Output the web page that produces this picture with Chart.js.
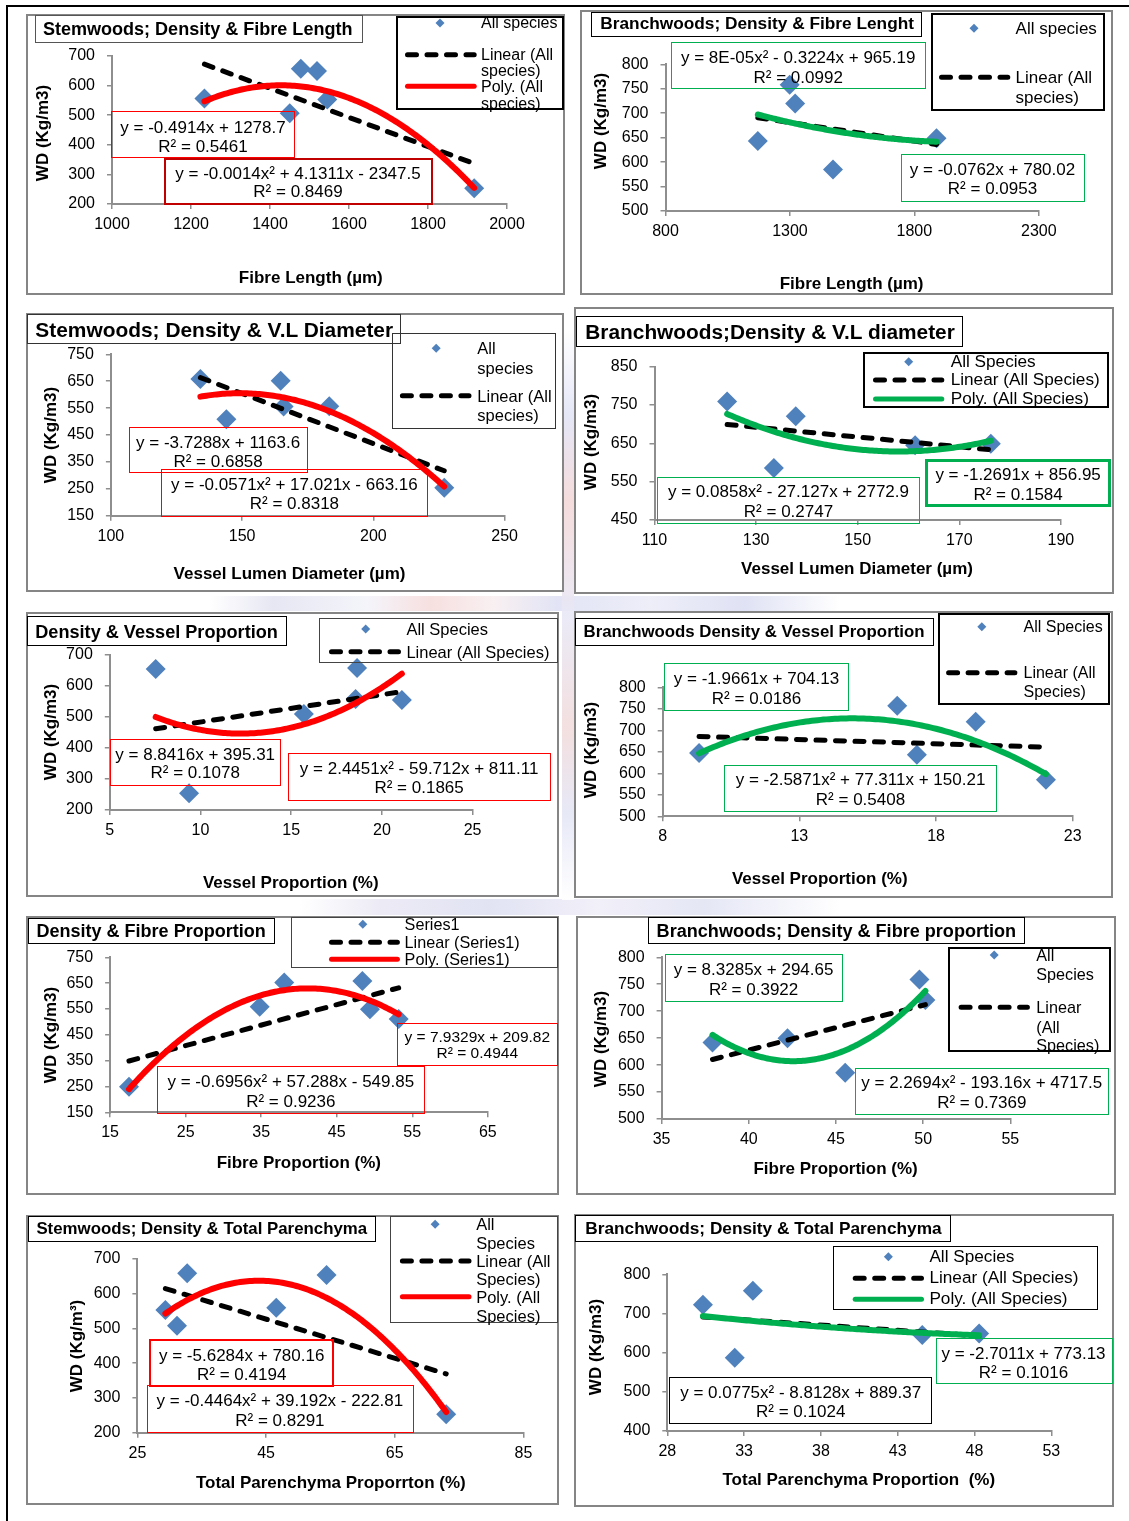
<!DOCTYPE html>
<html>
<head>
<meta charset="utf-8">
<title>Wood density and anatomical traits of stemwoods and branchwoods</title>
<script src="https://cdn.jsdelivr.net/npm/chart.js@4.4.1/dist/chart.umd.min.js"></script>
<style>
  html, body { margin:0; padding:0; background:#fff; }
  body { position:relative; width:1129px; height:1521px; overflow:hidden;
         font-family:'Liberation Sans', Arial, Helvetica, sans-serif; color:#000; }
  .abs { position:absolute; }
  .box { position:absolute; box-sizing:border-box; }
  .t { position:absolute; white-space:pre; line-height:1; }
  .c { transform:translate(-50%,-50%); }
  .l { transform:translateY(-50%); }
  .b { font-weight:bold; }
  .rot { transform:translate(-50%,-50%) rotate(-90deg); }
  canvas { position:absolute; }
  svg { position:absolute; left:0; top:0; }
  .haze { position:absolute; opacity:0.9; }
</style>
</head>
<body>
<!-- faint tinted bands between the chart rows -->
<div class="haze" style="left:210px;top:596px;width:630px;height:15px;background:linear-gradient(90deg,#fff,#e4e4f2 10%,#f3f3fa 25%,#f6dcdc 35%,#f8eef0 45%,#dfe1f4 55%,#ececf8 70%,#dcdff3 85%,#fff)"></div>
<div class="haze" style="left:300px;top:899px;width:540px;height:16px;background:linear-gradient(90deg,#fff,#eae8f4 15%,#dee0f2 35%,#f0eef8 55%,#e2e4f4 75%,#fff)"></div>
<div class="haze" style="left:562px;top:330px;width:12px;height:570px;background:linear-gradient(180deg,#fff,#e2e4f6 15%,#f4d8d8 30%,#e8e8f6 50%,#f2dcdc 70%,#e4e6f6 85%,#fff)"></div>

<div class="abs" style="left:6px;top:5px;width:1123px;height:2px;background:#000"></div>
<div class="abs" style="left:6px;top:5px;width:2px;height:1516px;background:#000"></div>
<script>
// ---------------- data: x value, wood density (kg/m3), trend coefficients, axis [min, max, step] ----------------

// Stemwoods: fibre length
const stemFibreLength        = [1234, 1450, 1478, 1519, 1545, 1917];
const stemFibreLengthWD      = [556, 507, 657, 649, 553, 253];
const stemFibreLengthLinear  = [-0.4914, 1278.7];
const stemFibreLengthPoly    = [-0.001447, 4.1311, -2347.5];   // leading term printed rounded as -0.0014
const stemFibreLengthXAxis   = [1000, 2000, 200];
const stemFibreLengthYAxis   = [200, 700, 100];

// Branchwoods: fibre length
const branchFibreLength       = [1171, 1299, 1321, 1473, 1889];
const branchFibreLengthWD     = [643, 758, 720, 585, 649];
const branchFibreLengthLinear = [-0.0762, 780.02];
const branchFibreLengthPoly   = [8e-5, -0.3224, 965.19];
const branchFibreLengthXAxis  = [800, 2300, 500];
const branchFibreLengthYAxis  = [500, 800, 50];

// Stemwoods: vessel lumen diameter
const stemVesselDiam        = [134.1, 144, 164.7, 165.8, 183.2, 227];
const stemVesselDiamWD      = [658, 509, 652, 556, 557, 254];
const stemVesselDiamLinear  = [-3.7288, 1163.6];
const stemVesselDiamPoly    = [-0.0571, 17.021, -663.16];
const stemVesselDiamXAxis   = [100, 250, 50];
const stemVesselDiamYAxis   = [150, 750, 100];

// Branchwoods: vessel lumen diameter
const branchVesselDiam       = [124.3, 133.5, 137.8, 161.3, 176.2];
const branchVesselDiamWD     = [759, 586, 721, 645, 649];
const branchVesselDiamLinear = [-1.2691, 856.95];
const branchVesselDiamPoly   = [0.0858, -27.127, 2772.9];
const branchVesselDiamXAxis  = [110, 190, 20];
const branchVesselDiamYAxis  = [450, 850, 100];

// Stemwoods: vessel proportion
const stemVesselProp        = [7.53, 9.37, 15.7, 18.63, 18.55, 21.1];
const stemVesselPropWD      = [655, 254, 510, 658, 558, 555];
const stemVesselPropLinear  = [8.8416, 395.31];
const stemVesselPropPoly    = [2.4451, -59.712, 811.11];
const stemVesselPropXAxis   = [5, 25, 5];
const stemVesselPropYAxis   = [200, 700, 100];

// Branchwoods: vessel proportion
const branchVesselProp       = [9.33, 16.58, 17.3, 19.45, 22.02];
const branchVesselPropWD     = [647, 757, 643, 720, 585];
const branchVesselPropLinear = [-1.9661, 704.13];
const branchVesselPropPoly   = [-2.5871, 77.311, 150.21];
const branchVesselPropXAxis  = [8, 23, 5];
const branchVesselPropYAxis  = [500, 800, 50];

// Stemwoods: fibre proportion
const stemFibreProp         = [17.5, 34.8, 38.05, 48.4, 49.4, 53.2];
const stemFibrePropWD       = [249, 559, 652, 658, 549, 511];
const stemFibrePropLinear   = [7.9329, 209.82];
const stemFibrePropPoly     = [-0.6956, 57.288, -549.85];
const stemFibrePropXAxis    = [15, 65, 10];
const stemFibrePropYAxis    = [150, 750, 100];

// Branchwoods: fibre proportion
const branchFibreProp        = [37.92, 42.22, 45.53, 49.79, 50.13];
const branchFibrePropWD      = [642, 650, 586, 759, 721];
const branchFibrePropLinear  = [8.3285, 294.65];
const branchFibrePropPoly    = [2.2694, -193.16, 4717.5];
const branchFibrePropXAxis   = [35, 55, 5];
const branchFibrePropYAxis   = [500, 800, 50];

// Stemwoods: total parenchyma
const stemParenchyma        = [29.35, 31.16, 32.74, 46.58, 54.4, 73];
const stemParenchymaWD      = [553, 508, 659, 560, 654, 253];
const stemParenchymaLinear  = [-5.6284, 780.16];
const stemParenchymaPoly    = [-0.4464, 39.192, -222.81];
const stemParenchymaXAxis   = [25, 85, 20];
const stemParenchymaYAxis   = [200, 700, 100];

// Branchwoods: total parenchyma
const branchParenchyma       = [30.32, 32.39, 33.57, 44.6, 48.3];
const branchParenchymaWD     = [722, 587, 758, 645, 649];
const branchParenchymaLinear = [-2.7011, 773.13];
const branchParenchymaPoly   = [0.0775, -8.8128, 889.37];
const branchParenchymaXAxis  = [28, 53, 5];
const branchParenchymaYAxis  = [400, 800, 100];

// ---------------- styling ----------------
const RED = '#FF0000', DARKRED = '#C00000', GREEN = '#00B050', BLUE = '#4F81BD', AXIS = '#8E8E8E';
const DASH = [9, 10.5];
const DASH_W = 5, POLY_W = 6;

const panelData = [
  { x: stemFibreLength,   y: stemFibreLengthWD,   lin: stemFibreLengthLinear,   poly: stemFibreLengthPoly,   xAxis: stemFibreLengthXAxis,   yAxis: stemFibreLengthYAxis,   polyColor: RED },
  { x: branchFibreLength, y: branchFibreLengthWD, lin: branchFibreLengthLinear, poly: branchFibreLengthPoly, xAxis: branchFibreLengthXAxis, yAxis: branchFibreLengthYAxis, polyColor: GREEN },
  { x: stemVesselDiam,    y: stemVesselDiamWD,    lin: stemVesselDiamLinear,    poly: stemVesselDiamPoly,    xAxis: stemVesselDiamXAxis,    yAxis: stemVesselDiamYAxis,    polyColor: RED },
  { x: branchVesselDiam,  y: branchVesselDiamWD,  lin: branchVesselDiamLinear,  poly: branchVesselDiamPoly,  xAxis: branchVesselDiamXAxis,  yAxis: branchVesselDiamYAxis,  polyColor: GREEN },
  { x: stemVesselProp,    y: stemVesselPropWD,    lin: stemVesselPropLinear,    poly: stemVesselPropPoly,    xAxis: stemVesselPropXAxis,    yAxis: stemVesselPropYAxis,    polyColor: RED },
  { x: branchVesselProp,  y: branchVesselPropWD,  lin: branchVesselPropLinear,  poly: branchVesselPropPoly,  xAxis: branchVesselPropXAxis,  yAxis: branchVesselPropYAxis,  polyColor: GREEN },
  { x: stemFibreProp,     y: stemFibrePropWD,     lin: stemFibrePropLinear,     poly: stemFibrePropPoly,     xAxis: stemFibrePropXAxis,     yAxis: stemFibrePropYAxis,     polyColor: RED },
  { x: branchFibreProp,   y: branchFibrePropWD,   lin: branchFibrePropLinear,   poly: branchFibrePropPoly,   xAxis: branchFibrePropXAxis,   yAxis: branchFibrePropYAxis,   polyColor: GREEN },
  { x: stemParenchyma,    y: stemParenchymaWD,    lin: stemParenchymaLinear,    poly: stemParenchymaPoly,    xAxis: stemParenchymaXAxis,    yAxis: stemParenchymaYAxis,    polyColor: RED },
  { x: branchParenchyma,  y: branchParenchymaWD,  lin: branchParenchymaLinear,  poly: branchParenchymaPoly,  xAxis: branchParenchymaXAxis,  yAxis: branchParenchymaYAxis,  polyColor: GREEN }
];

// frame: chart border [x, y, w, h]; plot: [x of axis min, x of axis max, y of axis max, y of axis min]
const panelLayout = [
  { frame:[26,14,539,281], plot:[112,507,56,204],
    title:{ text:'Stemwoods; Density & Fibre Length', box:[34.5,15,328,28], bw:1.5, bc:'#555', x:42.9, y:29, w:309.7 },
    legend:{ box:[396,15.5,168,94.5], bw:2, bc:'#000', fs:16, tx:481, marker:[440,23], dash:[405,476.7,54.7], solid:[405,476.7,86.3,RED],
             lines:[['All species',23],['Linear (All',54.7],['species)',70.7],['Poly. (All',87],['species)',104]] },
    eqs:[ { box:[110.9,111,184.3,47.3], bw:1, bc:RED, fs:17, cx:203, lines:[['y = -0.4914x + 1278.7',127.3],['R² = 0.5461',145.7]] },
          { box:[163.6,157.5,269,47], bw:2, bc:DARKRED, fs:17, cx:298, lines:[['y = -0.0014x² + 4.1311x - 2347.5',173],['R² = 0.8469',191.3]] } ],
    yTitle:['WD (Kg/m3)',42,133], xTitle:['Fibre Length (µm)',310.8,277.3] },

  { frame:[580,10,533,285], plot:[665.5,1038.8,64.3,211],
    title:{ text:'Branchwoods; Density & Fibre Lenght', box:[591.4,11.7,330.8,25.6], bw:1.5, bc:'#000', x:600.3, y:24.3, w:313.7 },
    legend:{ box:[930.8,12.7,174,98.3], bw:2, bc:'#000', fs:17, tx:1015.6, marker:[974,28.3], dash:[939,1010.3,77.3],
             lines:[['All species',28.3],['Linear (All',77.3],['species)',97]] },
    eqs:[ { box:[670.9,41.7,255.6,47.6], bw:1, bc:GREEN, fs:17, cx:798.2, lines:[['y = 8E-05x² - 0.3224x + 965.19',56.7],['R² = 0.0992',76.7]] },
          { box:[900.5,154,184.7,48], bw:1, bc:GREEN, fs:17, cx:992.5, lines:[['y = -0.0762x + 780.02',169.3],['R² = 0.0953',188.3]] } ],
    yTitle:['WD (Kg/m3)',600.3,121], xTitle:['Fibre Length (µm)',851.6,282.7] },

  { frame:[26,313,538,279], plot:[110.9,504.6,354.3,515.7],
    title:{ text:'Stemwoods; Density & V.L Diameter', box:[27.3,314,373.7,30.3], bw:1.5, bc:'#333', x:35.3, y:330, w:358 },
    legend:{ box:[391.9,333.3,164.3,95.7], bw:1.5, bc:'#333', fs:16.5, tx:477.3, marker:[436.2,348.3], dash:[399.9,471.5,395.7],
             lines:[['All',348.3],['species',367.7],['Linear (All',395.7],['species)',415]] },
    eqs:[ { box:[129,427.3,179.3,46], bw:1, bc:RED, fs:17, cx:218.1, lines:[['y = -3.7288x + 1163.6',441.7],['R² = 0.6858',461.3]] },
          { box:[160.7,469.3,267.5,48], bw:1, bc:RED, fs:17, cx:294.4, lines:[['y = -0.0571x² + 17.021x - 663.16',484.3],['R² = 0.8318',503.3]] } ],
    yTitle:['WD (Kg/m3)',49.8,435], xTitle:['Vessel Lumen Diameter (µm)',289.5,573.3] },

  { frame:[574,307,540,287], plot:[654.5,1060.9,366.7,520],
    title:{ text:'Branchwoods;Density & V.L diameter', box:[576.4,315.7,386.8,31], bw:1.5, bc:'#000', x:585.3, y:332.3, w:369.7 },
    legend:{ box:[863,352.3,246,56], bw:2, bc:'#000', fs:17.2, tx:950.7, marker:[908.7,361.7], dash:[873,944.3,380], solid:[873,944.3,399,GREEN],
             lines:[['All Species',361.7],['Linear (All Species)',380],['Poly. (All Species)',399]] },
    eqs:[ { box:[657.3,476.7,263.1,47.3], bw:1, bc:GREEN, fs:17, cx:788.5, lines:[['y = 0.0858x² - 27.127x + 2772.9',491],['R² = 0.2747',511]] },
          { box:[925.4,459.3,185.4,48], bw:3, bc:GREEN, fs:17, cx:1018.1, lines:[['y = -1.2691x + 856.95',474],['R² = 0.1584',494]] } ],
    yTitle:['WD (Kg/m3)',590.3,441.7], xTitle:['Vessel Lumen Diameter (µm)',857,568.3] },

  { frame:[26,612,533,285], plot:[109.8,472.6,655,810],
    title:{ text:'Density & Vessel Proportion', box:[27.3,616,259.9,29.7], bw:1.5, bc:'#000', x:35.3, y:631.7, w:242.8 },
    legend:{ box:[319.2,617.7,238.8,45.6], bw:1, bc:'#444', fs:16.5, tx:406.4, marker:[365.7,629], dash:[329,401,651.7],
             lines:[['All Species',629],['Linear (All Species)',651.7]] },
    eqs:[ { box:[109.8,739.3,170.8,46.4], bw:1, bc:RED, fs:17, cx:195.2, lines:[['y = 8.8416x + 395.31',754.3],['R² = 0.1078',772.3]] },
          { box:[288.3,752.7,262.4,48], bw:1, bc:RED, fs:17, cx:419.1, lines:[['y = 2.4451x² - 59.712x + 811.11',768.3],['R² = 0.1865',787.3]] } ],
    yTitle:['WD (Kg/m3)',49.8,732.2], xTitle:['Vessel Proportion (%)',290.8,882.3] },

  { frame:[574,611,539,287], plot:[662.7,1072.7,687.3,816.3],
    title:{ text:'Branchwoods Density & Vessel Proportion', box:[575.3,617.7,358.3,28], bw:1.5, bc:'#000', x:583.5, y:631.7, w:341.2 },
    legend:{ box:[937.9,613.3,172.2,91.7], bw:2, bc:'#000', fs:16, tx:1023.5, marker:[981.8,626.7], dash:[946.1,1017.4,672.7],
             lines:[['All Species',626.7],['Linear (All',672.7],['Species)',691.7]] },
    eqs:[ { box:[663.8,663.3,185.3,47.7], bw:1, bc:GREEN, fs:17, cx:756.5, lines:[['y = -1.9661x + 704.13',678.3],['R² = 0.0186',698.3]] },
          { box:[724.4,765,272.7,47.3], bw:1, bc:GREEN, fs:17, cx:860.5, lines:[['y = -2.5871x² + 77.311x + 150.21',779.3],['R² = 0.5408',799]] } ],
    yTitle:['WD (Kg/m3)',590.3,750], xTitle:['Vessel Proportion (%)',819.8,877.7] },

  { frame:[26,916,533,279], plot:[110.1,487.8,957.3,1112.3],
    title:{ text:'Density & Fibre Proportion', box:[28.4,917.7,246.8,26.6], bw:1.5, bc:'#000', x:36.4, y:931, w:229.7 },
    legend:{ box:[290.8,917.3,267.2,50.4], bw:1, bc:'#444', fs:16.2, tx:404.6, marker:[362.8,924.3], dash:[329,399.9,942.3], solid:[329,399.9,959.3,RED],
             lines:[['Series1',924.3],['Linear (Series1)',942.3],['Poly. (Series1)',959.3]] },
    eqs:[ { box:[397,1022.7,161,43.3], bw:1, bc:RED, fs:15.5, cx:477.3, lines:[['y = 7.9329x + 209.82',1036.7],['R² = 0.4944',1053.3]] },
          { box:[157,1066,268.3,48.3], bw:1, bc:RED, fs:17, cx:290.8, lines:[['y = -0.6956x² + 57.288x - 549.85',1081],['R² = 0.9236',1100.7]] } ],
    yTitle:['WD (Kg/m3)',49.8,1035.3], xTitle:['Fibre Proportion (%)',298.8,1161.7] },

  { frame:[576,916,540,279], plot:[661.6,1010.3,957.3,1119],
    title:{ text:'Branchwoods; Density & Fibre proportion', box:[648.4,916.7,376.9,27.6], bw:1.5, bc:'#000', x:656.6, y:931, w:359.8 },
    legend:{ box:[947.9,947.3,162.9,104.4], bw:2, bc:'#000', fs:16.2, tx:1036.3, marker:[994.2,955], dash:[958.6,1029.9,1007.3],
             lines:[['All',955],['Species',974],['Linear',1007.3],['(All',1026.7],['Species)',1045]] },
    eqs:[ { box:[664.5,954,178.9,47.7], bw:1.5, bc:GREEN, fs:17, cx:753.6, lines:[['y = 8.3285x + 294.65',969.3],['R² = 0.3922',989]] },
          { box:[854.5,1068.3,254.9,46.7], bw:1, bc:GREEN, fs:17, cx:981.8, lines:[['y = 2.2694x² - 193.16x + 4717.5',1082.3],['R² = 0.7369',1101.7]] } ],
    yTitle:['WD (Kg/m3)',600.3,1039.2], xTitle:['Fibre Proportion (%)',835.6,1168.3] },

  { frame:[26,1215,533,290], plot:[137.4,523.4,1259,1432.7],
    title:{ text:'Stemwoods; Density & Total Parenchyma', box:[28.4,1216,347.8,26.3], bw:1.5, bc:'#000', x:36.4, y:1229.3, w:330.8 },
    legend:{ box:[390,1216,168,107.3], bw:1.5, bc:'#444', fs:16.5, tx:476.2, marker:[435.1,1224.3], dash:[399.9,471.5,1261], solid:[399.9,471.5,1296.7,RED],
             lines:[['All',1224.3],['Species',1243.3],['Linear (All',1261],['Species)',1279.3],['Poly. (All',1296.7],['Species)',1315.7]] },
    eqs:[ { box:[149,1339.3,185.4,48], bw:2, bc:RED, fs:17, cx:241.7, lines:[['y = -5.6284x + 780.16',1355],['R² = 0.4194',1374]] },
          { box:[146.5,1385,267.9,47.7], bw:1, bc:RED, fs:17, cx:279.9, lines:[['y = -0.4464x² + 39.192x - 222.81',1400],['R² = 0.8291',1420]] } ],
    yTitle:['WD (Kg/m³)',76.3,1345.7], xTitle:['Total Parenchyma Proporrton (%)',330.8,1481.7] },

  { frame:[574,1214,540,293], plot:[667.3,1051.3,1274.3,1431],
    title:{ text:'Branchwoods; Density & Total Parenchyma', box:[575.3,1215,375.4,27.3], bw:1.5, bc:'#000', x:585.3, y:1229.3, w:356.5 },
    legend:{ box:[833.1,1246,264.5,64], bw:1.5, bc:'#000', fs:17.2, tx:929.4, marker:[888.4,1256.7], dash:[852.7,924,1278.3], solid:[852.7,924,1299.3,GREEN],
             lines:[['All Species',1256.7],['Linear (All Species)',1278.3],['Poly. (All Species)',1299.3]] },
    eqs:[ { box:[936.1,1338.3,176.5,46], bw:1, bc:GREEN, fs:17, cx:1023.5, lines:[['y = -2.7011x + 773.13',1353.3],['R² = 0.1016',1371.7]] },
          { box:[669.1,1376.7,262.7,47.6], bw:1.5, bc:'#000', fs:17, cx:800.7, lines:[['y = 0.0775x² - 8.8128x + 889.37',1391.7],['R² = 0.1024',1411]] } ],
    yTitle:['WD (Kg/m3)',595,1346.7], xTitle:['Total Parenchyma Proportion  (%)',858.8,1479.3] }
];

// ---------------- helpers ----------------
function el(tag, cls, css, txt) {
  const d = document.createElement(tag);
  if (cls) d.className = cls;
  if (css) d.style.cssText = css;
  if (txt !== undefined) d.textContent = txt;
  document.body.appendChild(d);
  return d;
}
function rect(r, bw, color) {
  return el('div', 'box', `left:${r[0]}px;top:${r[1]}px;width:${r[2]}px;height:${r[3]}px;border:${bw}px solid ${color};`);
}
function label(str, x, y, size, cls) {
  return el('div', 't ' + cls, `left:${x}px;top:${y}px;font-size:${size}px;`, str);
}
// evaluate a polynomial (descending coefficients) across the range of the observed x values
function trendPoints(xs, coeffs, steps) {
  const lo = Math.min(...xs), hi = Math.max(...xs);
  const out = [];
  for (let i = 0; i <= steps; i++) {
    const x = lo + (hi - lo) * i / steps;
    let y = 0;
    for (const c of coeffs) y = y * x + c;
    out.push({ x, y });
  }
  return out;
}

Chart.defaults.font.family = "'Liberation Sans', Arial, Helvetica, sans-serif";
Chart.defaults.color = '#000';

function axisOptions(range, fit, isX) {
  return {
    type: 'linear',
    position: isX ? 'bottom' : 'left',
    min: range[0], max: range[1],
    ticks: {
      stepSize: range[2], autoSkip: false, maxRotation: 0,
      font: { size: 16 }, color: '#000',
      padding: isX ? 6 : 12,
      callback: v => String(v)
    },
    grid: { drawOnChartArea: false, drawTicks: true, tickLength: 5, color: AXIS, lineWidth: 1.5 },
    border: { display: true, color: AXIS, width: 2 },
    afterFit: fit
  };
}

// ---------------- frames ----------------
panelLayout.forEach(L => rect(L.frame, 2, '#858585'));

// ---------------- charts ----------------
panelData.forEach((D, i) => {
  const L = panelLayout[i];
  const [fx, fy, fw, fh] = L.frame;
  const [x0, x1, yT, yB] = L.plot;
  const cv = el('canvas', '', `left:${fx}px;top:${fy}px;width:${fw}px;height:${fh}px;`);
  cv.width = fw; cv.height = fh;
  const yW = x0 - fx, xH = fy + fh - yB;
  new Chart(cv, {
    type: 'scatter',
    data: {
      datasets: [
        { label: 'observed', data: D.x.map((x, k) => ({ x, y: D.y[k] })), order: 3,
          pointStyle: 'rectRot', pointRadius: 10, pointHoverRadius: 10,
          backgroundColor: BLUE, borderColor: BLUE, borderWidth: 0, showLine: false, clip: false },
        { label: 'linear', data: trendPoints(D.x, D.lin, 1), order: 2, showLine: true,
          borderColor: '#000', borderWidth: DASH_W, borderDash: DASH, borderCapStyle: 'round',
          pointRadius: 0, pointHoverRadius: 0, clip: false },
        { label: 'poly', data: trendPoints(D.x, D.poly, 120), order: 1, showLine: true,
          borderColor: D.polyColor, borderWidth: POLY_W, borderCapStyle: 'round', borderJoinStyle: 'round',
          pointRadius: 0, pointHoverRadius: 0, clip: false, tension: 0 }
      ]
    },
    options: {
      responsive: false, animation: false, devicePixelRatio: 1, events: [],
      layout: { padding: { left: 0, top: yT - fy, right: fx + fw - x1, bottom: 0 } },
      plugins: { legend: { display: false }, tooltip: { enabled: false }, title: { display: false } },
      scales: {
        x: axisOptions(D.xAxis, s => { s.height = xH; }, true),
        y: axisOptions(D.yAxis, s => { s.width = yW; }, false)
      }
    }
  });
});

// ---------------- legend swatches ----------------
const NS = 'http://www.w3.org/2000/svg';
const svg = document.createElementNS(NS, 'svg');
svg.setAttribute('width', 1129); svg.setAttribute('height', 1521);
document.body.appendChild(svg);
function svgEl(name, attrs) {
  const e = document.createElementNS(NS, name);
  for (const k in attrs) e.setAttribute(k, attrs[k]);
  svg.appendChild(e);
  return e;
}

// ---------------- overlays: titles, legends, equations, axis titles ----------------
panelLayout.forEach(L => {
  const T = L.title;
  rect(T.box, T.bw, T.bc);
  const tl = label(T.text, T.x, T.y, 18, 'l b');
  const w = tl.getBoundingClientRect().width;
  tl.style.fontSize = (18 * T.w / w).toFixed(2) + 'px';

  const G = L.legend;
  rect(G.box, G.bw, G.bc);
  const [mx, my] = G.marker;
  svgEl('polygon', { points: `${mx-4.5},${my} ${mx},${my-4.5} ${mx+4.5},${my} ${mx},${my+4.5}`, fill: BLUE });
  const [d1, d2, dy] = G.dash;
  svgEl('line', { x1: d1 + 2.5, y1: dy, x2: d2 - 2.5, y2: dy, stroke: '#000', 'stroke-width': DASH_W,
                  'stroke-dasharray': DASH.join(' '), 'stroke-linecap': 'round' });
  if (G.solid) {
    const [s1, s2, sy, sc] = G.solid;
    svgEl('line', { x1: s1 + 2.5, y1: sy, x2: s2 - 2.5, y2: sy, stroke: sc, 'stroke-width': 5, 'stroke-linecap': 'round' });
  }
  G.lines.forEach(([s, y]) => label(s, G.tx, y, G.fs, 'l'));

  L.eqs.forEach(E => {
    rect(E.box, E.bw, E.bc);
    E.lines.forEach(([s, y]) => label(s, E.cx, y, E.fs, 'c'));
  });

  label(L.yTitle[0], L.yTitle[1], L.yTitle[2], 17, 'rot b');
  label(L.xTitle[0], L.xTitle[1], L.xTitle[2], 17, 'c b');
});
</script>
</body>
</html>
